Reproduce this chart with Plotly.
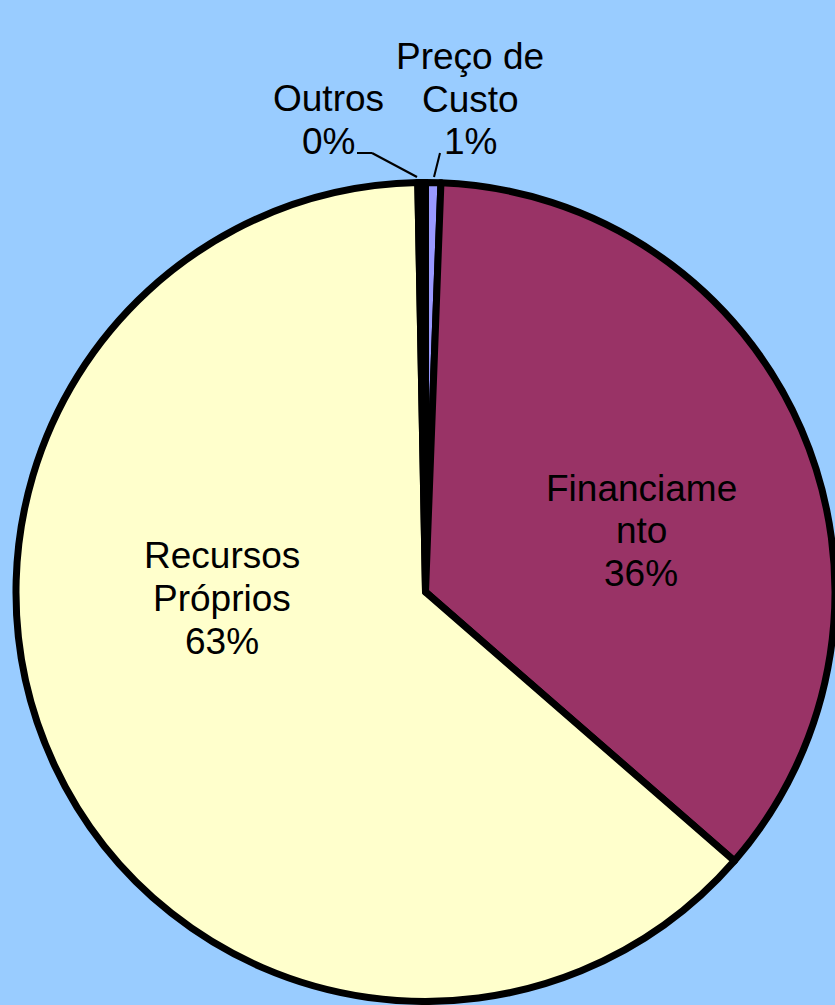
import plotly.graph_objects as go

labels = ["Preço de Custo", "Financiamento", "Recursos Próprios", "Outros"]
values = [0.6, 35.8, 63.3, 0.3]
colors = ["#9999FF", "#993366", "#FFFFCC", "#000000"]
label_lines = [["Preço de", "Custo", "1%"],
               ["Financiame", "nto", "36%"],
               ["Recursos", "Próprios", "63%"],
               ["Outros", "0%"]]

W, H = 835, 1005
fig = go.Figure(go.Pie(
    labels=labels, values=values, sort=False, direction="clockwise", rotation=0,
    marker=dict(colors=colors, line=dict(color="black", width=7)),
    textinfo="none", hoverinfo="label+percent",
    domain=dict(x=[16 / W, 1], y=[0, 1 - 179 / H]),
    showlegend=False,
))

pos = [(470, [56, 99, 142]), (641, [488, 530, 573]), (222, [555, 598, 641]), (328, [98, 142])]
ann = []
for lines, (x, ys) in zip(label_lines, pos):
    for t, y in zip(lines, ys):
        ann.append(dict(x=x / W, y=1 - y / H, xref="paper", yref="paper", text=t,
                        showarrow=False, xanchor="center", yanchor="middle",
                        font=dict(family="Liberation Sans, Arial", size=37, color="black")))

def P(x, y):
    return x / W, 1 - y / H

shapes = []
pts = [(357, 153), (372, 153), (417, 177)]
for (x0, y0), (x1, y1) in zip(pts[:-1], pts[1:]):
    a, b = P(x0, y0); c, d = P(x1, y1)
    shapes.append(dict(type="line", xref="paper", yref="paper", x0=a, y0=b, x1=c, y1=d,
                       line=dict(color="black", width=2)))
a, b = P(440, 153); c, d = P(434, 177)
shapes.append(dict(type="line", xref="paper", yref="paper", x0=a, y0=b, x1=c, y1=d,
                   line=dict(color="black", width=2)))

fig.update_layout(width=W, height=H, autosize=False, margin=dict(l=0, r=0, t=0, b=0),
                  paper_bgcolor="#99CCFF", plot_bgcolor="#99CCFF",
                  annotations=ann, shapes=shapes)
fig.write_html("out.html", config={"displayModeBar": False},
               post_script="document.body.style.margin='0';document.body.style.overflow='hidden';")
